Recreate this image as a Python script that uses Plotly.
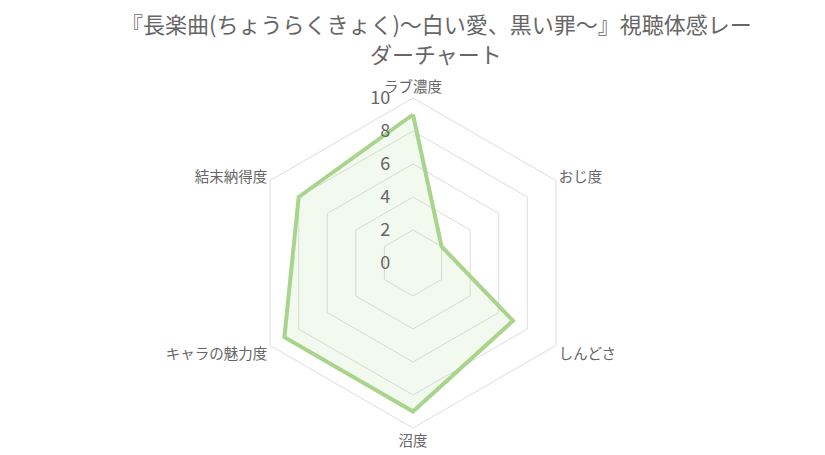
import plotly.graph_objects as go

categories = ["ラブ濃度", "おじ度", "しんどさ", "沼度", "キャラの魅力度", "結末納得度"]
values = [9, 2, 7, 9, 9, 8]
tick_vals = [0, 2, 4, 6, 8, 10]
title_lines = ["『長楽曲(ちょうらくきょく)～白い愛、黒い罪～』視聴体感レー", "ダーチャート"]

font_family = "Noto Sans CJK JP"

fig = go.Figure()
fig.add_trace(go.Scatterpolar(
    r=values + [values[0]],
    theta=categories + [categories[0]],
    mode="lines",
    line=dict(color="rgb(168,212,140)", width=4),
    fill="toself",
    fillcolor="rgba(168,212,140,0.15)",
    hoverinfo="skip",
))

W, H = 825, 455
# page body has an 8px margin; compensate
off = 8
cx, cy, R = 413 - off, 263 - off, 165
title_y = [23, 53]
annotations = [
    dict(
        text=line, xref="paper", yref="paper",
        x=(436 - off) / W, y=1 - (yy - off) / H, xanchor="center", yanchor="middle",
        showarrow=False, align="center",
        font=dict(size=22, color="#666666", family=font_family),
    )
    for line, yy in zip(title_lines, title_y)
]
fig.update_layout(
    width=W, height=H,
    margin=dict(l=0, r=0, t=0, b=0),
    paper_bgcolor="white",
    showlegend=False,
    font=dict(family=font_family, color="#666666"),
    annotations=annotations,
    polar=dict(
        domain=dict(x=[(cx - R) / W, (cx + R) / W], y=[(H - cy - R) / H, (H - cy + R) / H]),
        bgcolor="white",
        gridshape="linear",
        radialaxis=dict(
            range=[0, 10], tickvals=tick_vals, ticktext=[str(v) for v in tick_vals],
            angle=90, tickangle=90, side="counterclockwise",
            showline=False, ticks="outside", ticklen=16, tickcolor="rgba(0,0,0,0)",
            gridcolor="#dddddd", gridwidth=1,
            tickfont=dict(size=18, color="#666666", family=font_family),
        ),
        angularaxis=dict(
            rotation=90, direction="clockwise",
            showgrid=False, linecolor="#dddddd", linewidth=1, ticks="",
            tickfont=dict(size=14.5, color="#666666", family=font_family),
        ),
    ),
)

fig.write_html("out.html")
